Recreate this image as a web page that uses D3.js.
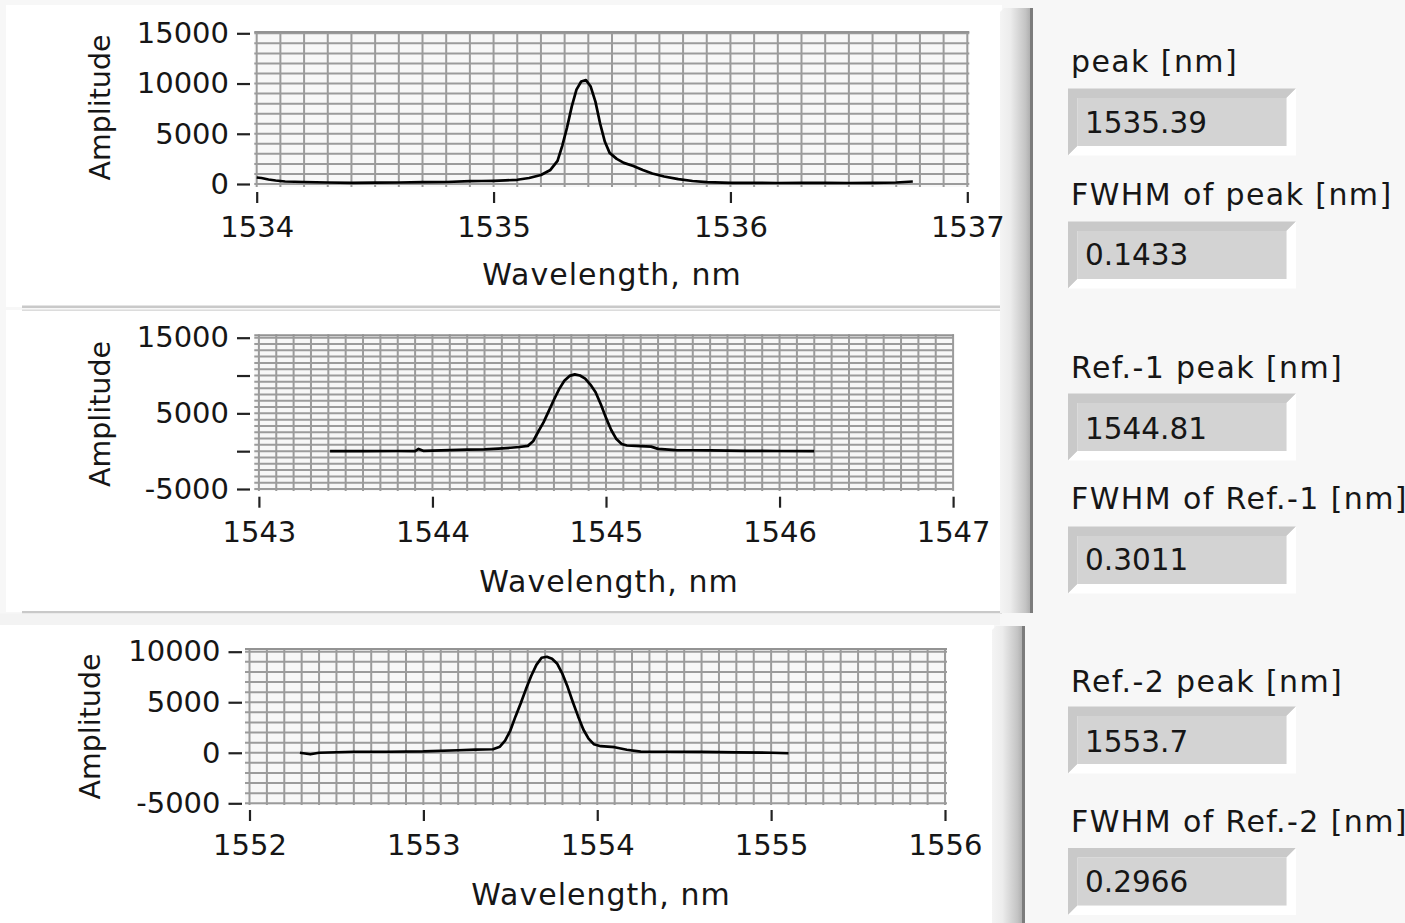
<!DOCTYPE html>
<html><head><meta charset="utf-8">
<script src="https://cdn.jsdelivr.net/npm/d3@7"></script>
<style>html,body{margin:0;padding:0;background:#f7f7f7;overflow:hidden}svg{display:block}</style>
</head><body><svg id="c" width="1405" height="923"></svg>
<script>
// ---------------- DATA ----------------
const peakWavelength = [1534.00,1534.02,1534.05,1534.08,1534.12,1534.20,1534.30,1534.40,1534.50,1534.60,1534.70,1534.80,1534.90,1534.95,1535.00,1535.05,1535.10,1535.15,1535.20,1535.24,1535.27,1535.29,1535.31,1535.33,1535.35,1535.37,1535.39,1535.41,1535.43,1535.45,1535.47,1535.49,1535.52,1535.55,1535.59,1535.63,1535.67,1535.72,1535.78,1535.84,1535.90,1536.00,1536.10,1536.20,1536.30,1536.40,1536.50,1536.60,1536.70,1536.77];
const peakAmplitude  = [650,600,450,350,250,200,150,120,130,150,180,200,280,300,320,360,420,600,900,1400,2300,3800,5600,7700,9400,10200,10350,9700,8200,6000,4200,3100,2500,2100,1800,1400,1050,750,480,300,180,120,110,100,120,110,100,120,150,250];

const ref1Wavelength = [1543.41,1543.60,1543.80,1543.90,1543.92,1543.95,1544.10,1544.20,1544.30,1544.38,1544.45,1544.50,1544.55,1544.58,1544.61,1544.64,1544.67,1544.70,1544.73,1544.76,1544.79,1544.82,1544.85,1544.88,1544.91,1544.94,1544.97,1545.00,1545.03,1545.06,1545.09,1545.12,1545.20,1545.26,1545.30,1545.40,1545.50,1545.60,1545.80,1546.00,1546.20];
const ref1Amplitude  = [0,0,20,0,300,30,150,200,250,350,450,550,700,1300,2600,3800,5300,6800,8200,9300,9950,10150,10000,9600,8800,7800,6200,4400,2800,1600,950,750,680,600,300,150,120,100,50,20,0];

const ref2Wavelength = [1552.29,1552.35,1552.40,1552.60,1552.80,1553.00,1553.20,1553.30,1553.40,1553.44,1553.47,1553.50,1553.53,1553.56,1553.59,1553.62,1553.65,1553.68,1553.71,1553.74,1553.77,1553.80,1553.83,1553.86,1553.89,1553.92,1553.95,1553.98,1554.02,1554.10,1554.17,1554.25,1554.40,1554.60,1554.80,1555.00,1555.10];
const ref2Amplitude  = [0,-150,0,100,100,130,250,320,350,600,1200,2200,3600,4900,6300,7600,8700,9400,9500,9300,8800,7800,6500,5000,3600,2300,1400,850,650,550,300,120,100,80,40,0,-50];

const peakXTicks = [1534,1535,1536,1537];
const peakYTicks = [0,5000,10000,15000];
const peakYTickLabels = ["0","5000","10000","15000"];

const ref1XTicks = [1543,1544,1545,1546,1547];
const ref1YTicks = [-5000,0,5000,10000,15000];
const ref1YTickLabels = ["-5000","","5000","","15000"];

const ref2XTicks = [1552,1553,1554,1555,1556];
const ref2YTicks = [-5000,0,5000,10000];
const ref2YTickLabels = ["-5000","0","5000","10000"];

const xTitle = "Wavelength, nm";
const yTitle = "Amplitude";

const readoutLabels = ["peak [nm]","FWHM of peak [nm]","Ref.-1 peak [nm]","FWHM of Ref.-1 [nm]","Ref.-2 peak [nm]","FWHM of Ref.-2 [nm]"];
const readoutValues = ["1535.39","0.1433","1544.81","0.3011","1553.7","0.2966"];

// ---------------- DRAWING ----------------
const svg = d3.select("#c");
const FONT = "'DejaVu Sans', Verdana, sans-serif";
const TXT = "#161616";

const defs = svg.append("defs");
const grad = defs.append("linearGradient").attr("id","bar").attr("x1","0").attr("x2","1").attr("y1","0").attr("y2","0");
grad.append("stop").attr("offset","0").attr("stop-color","#f4f4f4");
grad.append("stop").attr("offset","0.35").attr("stop-color","#ececec");
grad.append("stop").attr("offset","0.85").attr("stop-color","#c4c4c4");
grad.append("stop").attr("offset","1").attr("stop-color","#b0b0b0");

// page background
svg.append("rect").attr("width",1405).attr("height",923).attr("fill","#f7f7f7");

// panels
svg.append("rect").attr("x",6).attr("y",5).attr("width",996).attr("height",302).attr("fill","#ffffff");
svg.append("rect").attr("x",6).attr("y",310).attr("width",996).attr("height",302).attr("fill","#ffffff");
svg.append("rect").attr("x",0).attr("y",625).attr("width",994).attr("height",298).attr("fill","#ffffff");
// panel separators
svg.append("rect").attr("x",22).attr("y",305.5).attr("width",980).attr("height",2.5).attr("fill","#c9c9c9");
svg.append("rect").attr("x",22).attr("y",309.5).attr("width",980).attr("height",1.5).attr("fill","#dcdcdc");
svg.append("rect").attr("x",22).attr("y",611).attr("width",980).attr("height",2.5).attr("fill","#c9c9c9");
svg.append("rect").attr("x",0).attr("y",613.5).attr("width",1000).attr("height",11.5).attr("fill","#f3f3f3");
// vertical splitter bars
svg.append("path").attr("d","M1000,12 L1004,8 L1030,8 L1030,613 L1000,613 Z").attr("fill","url(#bar)");
svg.append("rect").attr("x",1030).attr("y",8).attr("width",3).attr("height",605).attr("fill","#7c7c7c");
svg.append("path").attr("d","M992,630 L996,626 L1022,626 L1022,923 L992,923 Z").attr("fill","url(#bar)");
svg.append("rect").attr("x",1022).attr("y",626).attr("width",3).attr("height",297).attr("fill","#7c7c7c");

function drawChart(cfg) {
  const g = svg.append("g");
  const x = d3.scaleLinear().domain(cfg.xDomain).range(cfg.xRange);
  const y = d3.scaleLinear().domain(cfg.yDomain).range(cfg.yRange);
  const G = cfg.grid;
  g.append("rect").attr("x",G.x0).attr("y",G.y0).attr("width",G.x1-G.x0).attr("height",G.y1-G.y0).attr("fill","#f7f7f7");
  const GC = "#9b9b9b", GW = 2;
  // vertical grid lines
  const nv = Math.round((cfg.xDomain[1]-cfg.xDomain[0])/cfg.xMinor);
  const vVals = d3.range(nv+1).map(i => cfg.xDomain[0] + i*cfg.xMinor);
  g.selectAll(null).data(vVals).enter().append("line")
    .attr("x1",d=>x(d)).attr("x2",d=>x(d)).attr("y1",G.y0).attr("y2",G.y1)
    .attr("stroke",GC).attr("stroke-width",GW);
  // horizontal grid lines
  const nh = Math.round((cfg.yDomain[1]-cfg.yDomain[0])/cfg.yMinor);
  const hVals = d3.range(nh+1).map(i => cfg.yDomain[0] + i*cfg.yMinor);
  g.selectAll(null).data(hVals).enter().append("line")
    .attr("x1",G.x0).attr("x2",G.x1).attr("y1",d=>y(d)).attr("y2",d=>y(d))
    .attr("stroke",GC).attr("stroke-width",GW);
  // top border
  g.append("line").attr("x1",G.x0).attr("x2",G.x1).attr("y1",G.y0+1).attr("y2",G.y0+1).attr("stroke","#939393").attr("stroke-width",2);

  // trace
  const pts = cfg.xs.map((v,i)=>[v,cfg.ys[i]]);
  g.append("path").datum(pts)
    .attr("d", d3.line().x(d=>x(d[0])).y(d=>y(d[1])))
    .attr("fill","none").attr("stroke","#000").attr("stroke-width",2.7).attr("stroke-linejoin","round");

  // y axis
  const ya = g.append("g").attr("transform",`translate(${cfg.yAxisX},0)`)
    .call(d3.axisLeft(y).tickValues(cfg.yTicks).tickFormat((d,i)=>cfg.yLabels[i]).tickSize(cfg.yTickLen).tickPadding(8));
  ya.select(".domain").remove();
  ya.selectAll(".tick line").attr("stroke","#222").attr("stroke-width",2.2);
  ya.selectAll(".tick text").attr("font-family",FONT).attr("font-size",29).attr("fill",TXT);

  // x axis
  const xa = g.append("g").attr("transform",`translate(0,${cfg.xAxisY})`)
    .call(d3.axisBottom(x).tickValues(cfg.xTicks).tickFormat(d3.format("d")).tickSize(11).tickPadding(13.4));
  xa.select(".domain").remove();
  xa.selectAll(".tick line").attr("stroke","#222").attr("stroke-width",2.2);
  xa.selectAll(".tick text").attr("font-family",FONT).attr("font-size",29).attr("fill",TXT);

  // titles
  g.append("text").attr("x",cfg.xTitleX).attr("y",cfg.xTitleY).attr("text-anchor","middle")
    .attr("font-family",FONT).attr("font-size",30).attr("letter-spacing",1).attr("fill",TXT).text(xTitle);
  g.append("text").attr("transform",`translate(${cfg.yTitleX},${cfg.yTitleY}) rotate(-90)`).attr("text-anchor","middle")
    .attr("font-family",FONT).attr("font-size",28.5).attr("fill",TXT).text(yTitle);
}

drawChart({
  xs: peakWavelength, ys: peakAmplitude,
  xDomain:[1534,1537], xRange:[256.7,967.3], xMinor:0.1,
  yDomain:[0,15000], yRange:[184,33.3], yMinor:1000,
  grid:{x0:254.3,x1:969.3,y0:31,y1:187},
  xTicks: peakXTicks, yTicks: peakYTicks, yLabels: peakYTickLabels,
  yAxisX:250, yTickLen:13, xAxisY:192,
  xTitleX:612, xTitleY:285, yTitleX:110, yTitleY:107.5
});
drawChart({
  xs: ref1Wavelength, ys: ref1Amplitude,
  xDomain:[1543,1547], xRange:[258.9,953.1], xMinor:0.1,
  yDomain:[-5000,15000], yRange:[489,337.7], yMinor:5000/6,
  grid:{x0:254.3,x1:954,y0:334.3,y1:491},
  xTicks: ref1XTicks, yTicks: ref1YTicks, yLabels: ref1YTickLabels,
  yAxisX:250, yTickLen:13, xAxisY:496.7,
  xTitleX:609, xTitleY:591.5, yTitleX:110, yTitleY:414
});
drawChart({
  xs: ref2Wavelength, ys: ref2Amplitude,
  xDomain:[1552,1556], xRange:[249.5,945], xMinor:0.1,
  yDomain:[-5000,10000], yRange:[803.3,651.7], yMinor:1000,
  grid:{x0:245,x1:947,y0:648,y1:805},
  xTicks: ref2XTicks, yTicks: ref2YTicks, yLabels: ref2YTickLabels,
  yAxisX:242, yTickLen:13.5, xAxisY:810,
  xTitleX:601, xTitleY:905, yTitleX:100, yTitleY:726.5
});

// readouts
const readoutLayout = [
  {label:71.5, boxTop:88.5, val:133},
  {label:205, boxTop:221.5, val:264.5},
  {label:377.5, boxTop:393.5, val:438.5},
  {label:509, boxTop:526.5, val:570},
  {label:691.5, boxTop:706.5, val:751.5},
  {label:832, boxTop:848, val:892}
];
readoutLabels.forEach((lab,i)=>{
  const L = readoutLayout[i];
  const x0 = 1068, x1 = 1296, y0 = L.boxTop, y1 = L.boxTop+67, b = 9.5;
  svg.append("path").attr("d",`M${x0},${y0} L${x1},${y0} L${x1-b},${y0+b} L${x0+b},${y0+b} L${x0+b},${y1-b} L${x0},${y1} Z`).attr("fill","#c9c9c9");
  svg.append("path").attr("d",`M${x1},${y0} L${x1},${y1} L${x0},${y1} L${x0+b},${y1-b} L${x1-b},${y1-b} L${x1-b},${y0+b} Z`).attr("fill","#ffffff");
  svg.append("rect").attr("x",x0+b).attr("y",y0+b).attr("width",x1-x0-2*b).attr("height",y1-y0-2*b).attr("fill","#d3d3d3");
  svg.append("text").attr("x",1071).attr("y",L.label).attr("font-family",FONT).attr("font-size",30)
    .attr("letter-spacing",1.4).attr("fill",TXT).text(lab);
  svg.append("text").attr("x",1085).attr("y",L.val).attr("font-family",FONT).attr("font-size",29.5)
    .attr("fill",TXT).text(readoutValues[i]);
});
</script></body></html>
